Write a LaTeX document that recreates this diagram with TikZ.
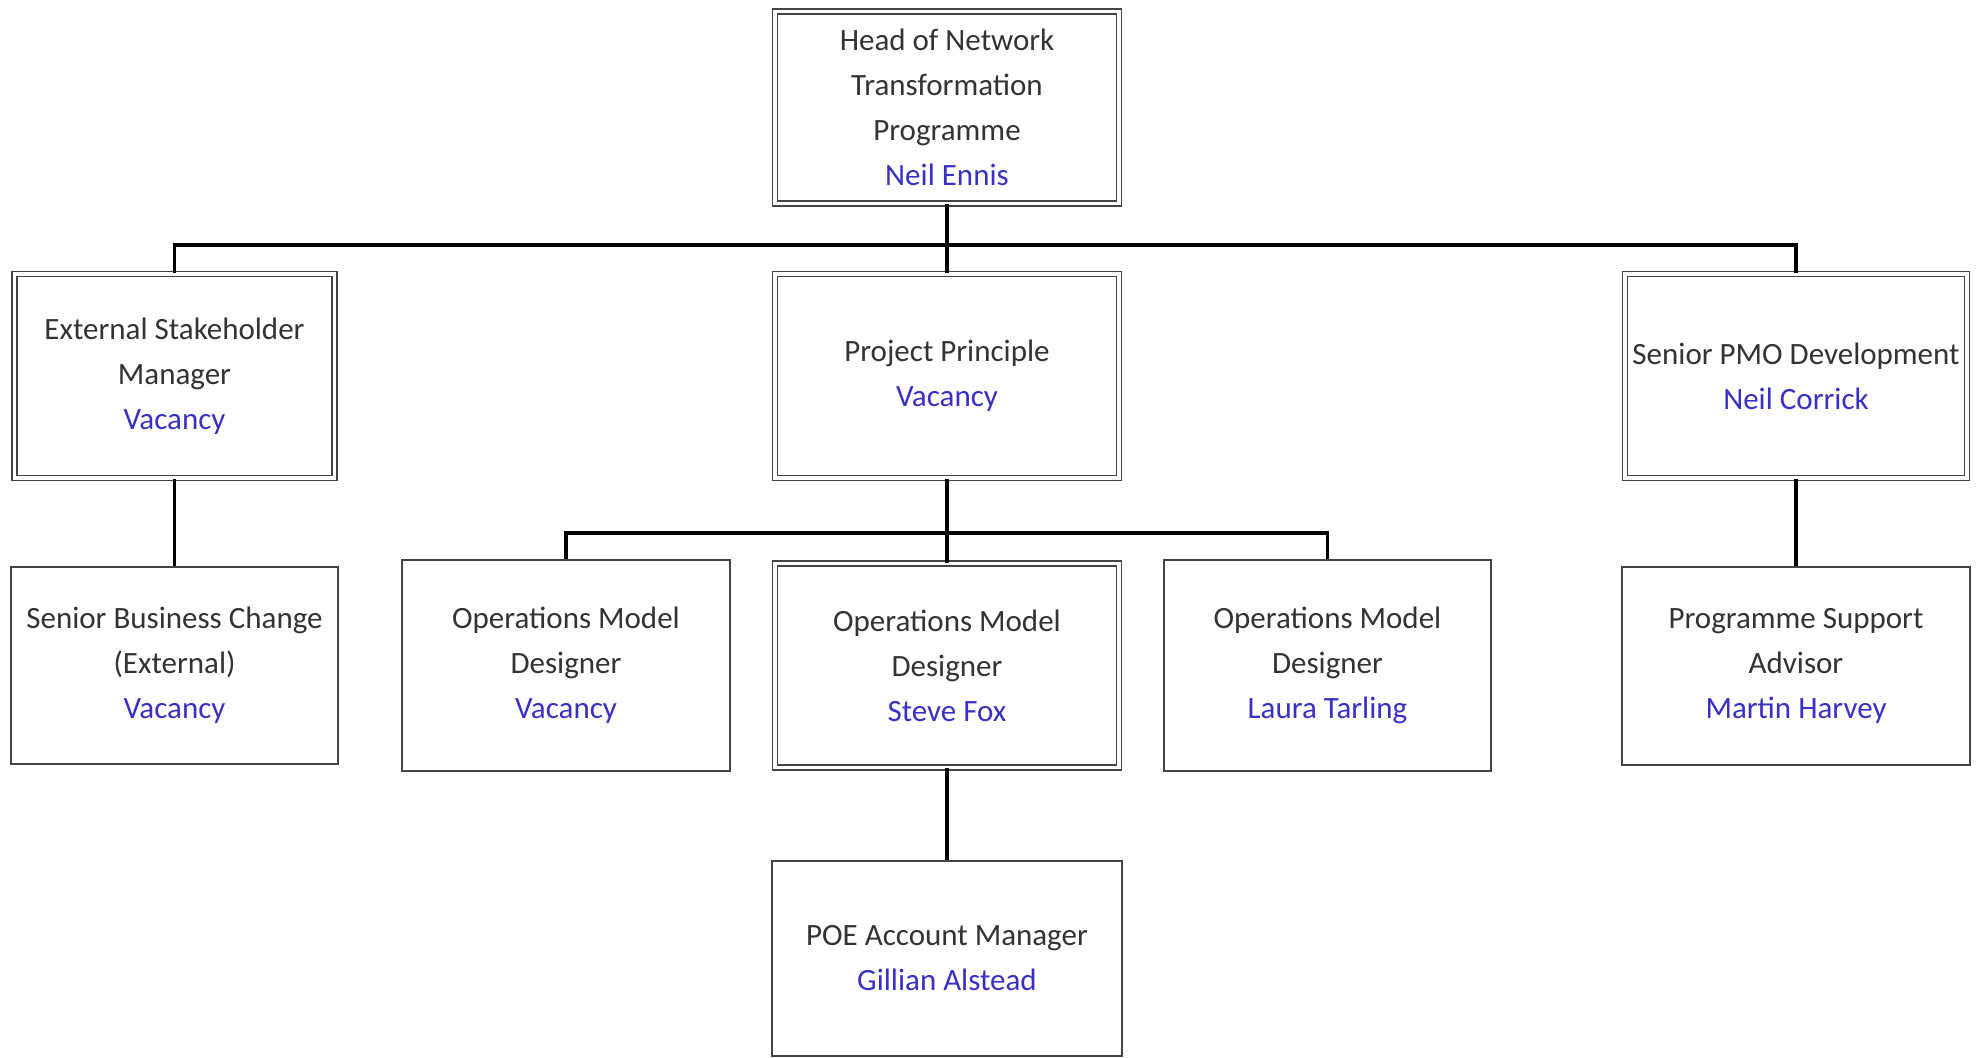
\documentclass[tikz,border=0pt]{standalone}
\usepackage{fontspec}
\setmainfont{Carlito}
\usetikzlibrary{positioning}
\definecolor{nameblue}{RGB}{58,48,196}
\definecolor{boxgray}{RGB}{68,68,68}
\tikzset{
        x=0.5pt, y=-0.5pt, % one unit is one pixel of the chart
        post/.style={draw=boxgray, line width=0.9pt, fill=white, text=black!80,
                align=center, inner sep=0pt,
                font=\fontsize{15.5}{22.5}\selectfont},
        lead/.style={post, double=white, double distance=1.6pt},
        link/.style={line width=1.7pt, black}
        }
\newcommand{\who}[1]{\textcolor{nameblue}{#1}}

\begin{document}
\begin{tikzpicture}
        \useasboundingbox (0,0) rectangle (1978,1058);
        % top
        \node[lead, minimum width=172pt, minimum height=96pt](head) at (947,107.5)
                {Head of Network\\Transformation\\Programme\\\who{Neil Ennis}};
        % second row
        \node[lead, minimum width=160pt, minimum height=102pt](esm) at (174.5,376)
                {External Stakeholder\\Manager\\\who{Vacancy}};
        \node[lead, minimum width=172pt, minimum height=102pt](pp) at (947,376)
                {Project Principle\\\who{Vacancy}};
        \node[lead, minimum width=171pt, minimum height=102pt](pmo) at (1796,376)
                {Senior PMO Development\\\who{Neil Corrick}};
        % third row
        \node[post, minimum width=163.5pt, minimum height=98.5pt](sbc) at (174.5,665.5)
                {Senior Business Change\\(External)\\\who{Vacancy}};
        \node[post, minimum width=164pt, minimum height=105.5pt](omd1) at (566,665.5)
                {Operations Model\\Designer\\\who{Vacancy}};
        \node[lead, minimum width=172pt, minimum height=102pt](omd2) at (947,665.5)
                {Operations Model\\Designer\\\who{Steve Fox}};
        \node[post, minimum width=163.5pt, minimum height=105.5pt](omd3) at (1327.5,665.5)
                {Operations Model\\Designer\\\who{Laura Tarling}};
        \node[post, minimum width=174pt, minimum height=99pt](psa) at (1796,666)
                {Programme Support\\Advisor\\\who{Martin Harvey}};
        % bottom
        \node[post, minimum width=175pt, minimum height=97.5pt](poe) at (947,958.5)
                {POE Account Manager\\\who{Gillian Alstead}};
        \coordinate (bus1) at (947,245);
        \coordinate (bus2) at (947,533);
        \draw[link] (head) -- (pp);
        \draw[link] (esm.north) |- (bus1) -| (pmo.north);
        \draw[link] (esm) -- (sbc);
        \draw[link] (pmo) -- (psa);
        \draw[link] (pp) -- (omd2);
        \draw[link] (omd1.north) |- (bus2) -| (omd3.north);
        \draw[link] (omd2) -- (poe);
\end{tikzpicture}
\end{document}
